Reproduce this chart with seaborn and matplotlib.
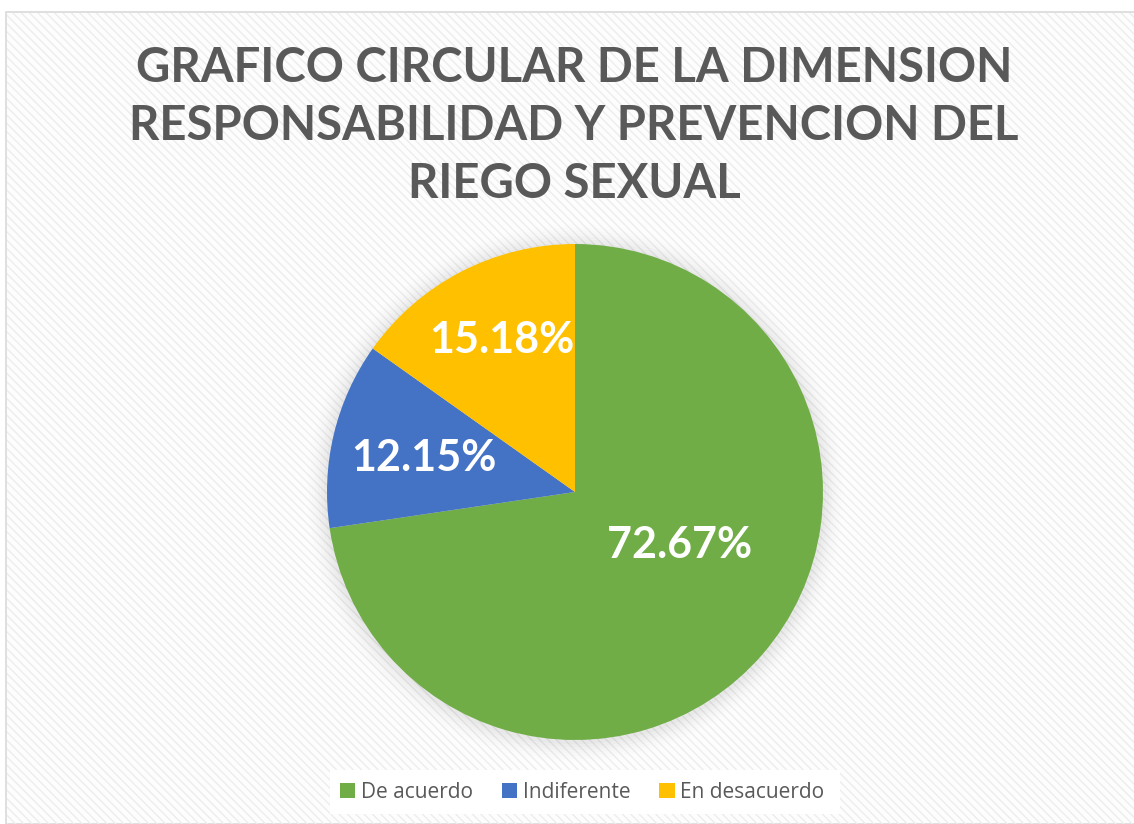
import matplotlib
matplotlib.use("Agg")
import matplotlib.pyplot as plt
import seaborn as sns
from matplotlib.patches import Rectangle, Circle

categories = ["De acuerdo", "Indiferente", "En desacuerdo"]
values = [72.67, 12.15, 15.18]
labels = ["72.67%", "12.15%", "15.18%"]
title_lines = ["GRAFICO CIRCULAR DE LA DIMENSION",
               "RESPONSABILIDAD Y PREVENCION DEL",
               "RIEGO SEXUAL"]

sns.set_theme(style="white")
plt.rcParams['font.family'] = ['Lato', 'DejaVu Sans']
plt.rcParams['hatch.linewidth'] = 1.0
colors = sns.color_palette(["#70AD47", "#4472C4", "#FFC000"])

W, H = 1134, 824
fig = plt.figure(figsize=(W / 100, H / 100), dpi=100)
fig.patch.set_facecolor("white")

# chart area background with diagonal stripes
bg = Rectangle((6 / W, 0), 1.1, (H - 12) / H, transform=fig.transFigure,
               facecolor="#fdfdfd", edgecolor="#d9d9d9", linewidth=1.2, zorder=-3)
fig.patches.append(bg)
hatch = Rectangle((7 / W, 0), 1.1, (H - 13) / H, transform=fig.transFigure,
                  facecolor="none", edgecolor="#ededed", hatch="\\\\\\\\", linewidth=0, zorder=-2)
fig.patches.append(hatch)

# pie axes: center (575, 492), radius 248
cx, cy, r = 575, 492, 248
ax = fig.add_axes([(cx - r) / W, (H - cy - r) / H, 2 * r / W, 2 * r / H])

wedges, _ = ax.pie(values, colors=colors, startangle=90, counterclock=False,
                   radius=1, wedgeprops=dict(edgecolor="none"))
for w in wedges:
    w.set_zorder(2)
ax.set_xlim(-1, 1)
ax.set_ylim(-1, 1)
ax.set_aspect("equal")
ax.axis("off")
ax.patch.set_alpha(0)

# soft shadow
for i, a in enumerate([0.02, 0.017, 0.014, 0.011, 0.008, 0.006, 0.004]):
    ax.add_patch(Circle((0.0, -0.005), 1 + 0.012 * (i + 1), facecolor="black", alpha=a,
                        edgecolor="none", zorder=0, clip_on=False))

label_pos = [(680, 545), (424, 458), (502, 340)]
for (px, py), t in zip(label_pos, labels):
    ax.text((px - cx) / r, (cy - py) / r, t, ha="center", va="center",
            color="white", fontsize=31, fontweight="bold", zorder=3)

for y, line in zip([64.5, 122.5, 180.5], title_lines):
    fig.text(574 / W, 1 - y / H, line, ha="center", va="center_baseline",
             fontsize=34, fontweight="bold", color="#595959")

# legend
lb = Rectangle((330 / W, 1 - 814 / H), 510 / W, 44 / H, transform=fig.transFigure,
               facecolor="white", edgecolor="none", zorder=1)
fig.patches.append(lb)
handles = [Rectangle((0, 0), 1, 1, facecolor=c, edgecolor="none") for c in colors]
leg = fig.legend(handles, categories, loc="center", bbox_to_anchor=(582 / W, 1 - 792 / H),
                 ncol=3, frameon=False, handlelength=0.75, handleheight=0.75,
                 handletextpad=0.25, columnspacing=1.4,
                 prop={"family": ["Open Sans", "DejaVu Sans"], "size": 15})
for t in leg.get_texts():
    t.set_color("#595959")

fig.savefig("out.png", dpi=100, facecolor="white")
